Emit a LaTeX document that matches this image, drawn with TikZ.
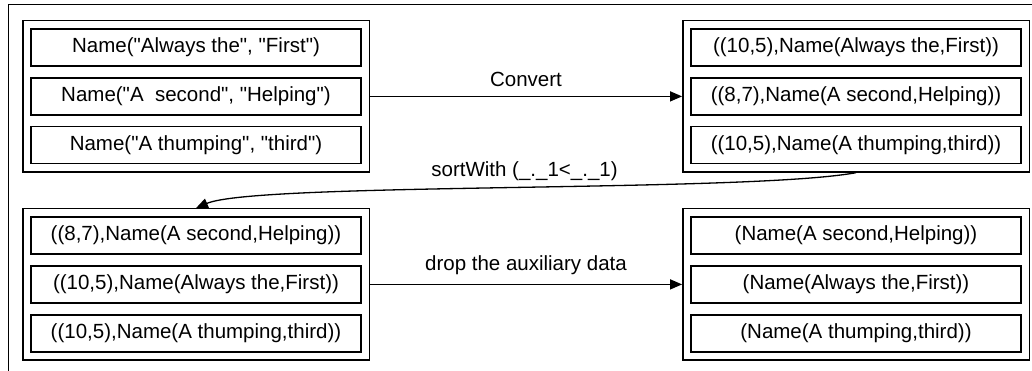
\documentclass[tikz,border=0pt]{standalone}
\usepackage{fontspec}
\setmainfont{Liberation Sans}[Ligatures=TeXOff]
\usepackage{tikz}
\usetikzlibrary{arrows.meta, positioning, fit}
\tikzset{
  item/.style={rectangle, draw, line width=1.4pt, minimum width=330pt, minimum height=37pt, inner sep=0pt, font=\fontsize{20.5}{24}\selectfont},
  group/.style={rectangle, draw, line width=1.4pt, inner sep=7.5pt},
  arr/.style={-{Triangle[length=12pt, width=10pt]}, line width=1.3pt},
  lbl/.style={font=\fontsize{20.5}{24}\selectfont},
}

\begin{document}
\begin{tikzpicture}[x=1pt, y=-1pt, node distance=10.5pt]
\useasboundingbox (0,0) rectangle (1032,371);
% ---- page frame (cut off) ----
\draw[line width=1.4pt] (8.5,371) -- (8.5,4.5) -- (1032,4.5);
% ---- source list ----
\node[item] (a1) at (196,47.5) {Name("Always the", "First")};
\node[item, below=of a1] (a2) {Name("A\ \ second", "Helping")};
\node[item, below=of a2] (a3) {Name("A thumping", "third")};
\node[group, fit=(a1)(a2)(a3)] (tl) {};
% ---- paired with key ----
\node[item] (b1) at (856,47.5) {((10,5),Name(Always the,First))};
\node[item, below=of b1] (b2) {((8,7),Name(A second,Helping))};
\node[item, below=of b2] (b3) {((10,5),Name(A thumping,third))};
\node[group, fit=(b1)(b2)(b3)] (tr) {};
% ---- sorted ----
\node[item] (c1) at (196,235.5) {((8,7),Name(A second,Helping))};
\node[item, below=of c1] (c2) {((10,5),Name(Always the,First))};
\node[item, below=of c2] (c3) {((10,5),Name(A thumping,third))};
\node[group, fit=(c1)(c2)(c3)] (bl) {};
% ---- result ----
\node[item] (d1) at (856,235.5) {(Name(A second,Helping))};
\node[item, below=of d1] (d2) {(Name(Always the,First))};
\node[item, below=of d2] (d3) {(Name(A thumping,third))};
\node[group, fit=(d1)(d2)(d3)] (br) {};
% ---- steps ----
\draw[arr] (tl.east) -- node[lbl, above=6pt] (conv) {Convert} (tr.west);
\draw[arr] (tr.south) .. controls +(-110,20) and +(60,-26) .. node[lbl, above=3pt, pos=0.48] (sortw) {sortWith (\_.\_1<\_.\_1)} (bl.north);
\draw[arr] (bl.east) -- node[lbl, above=6pt] (drop) {drop the auxiliary data} (br.west);
\end{tikzpicture}
\end{document}
